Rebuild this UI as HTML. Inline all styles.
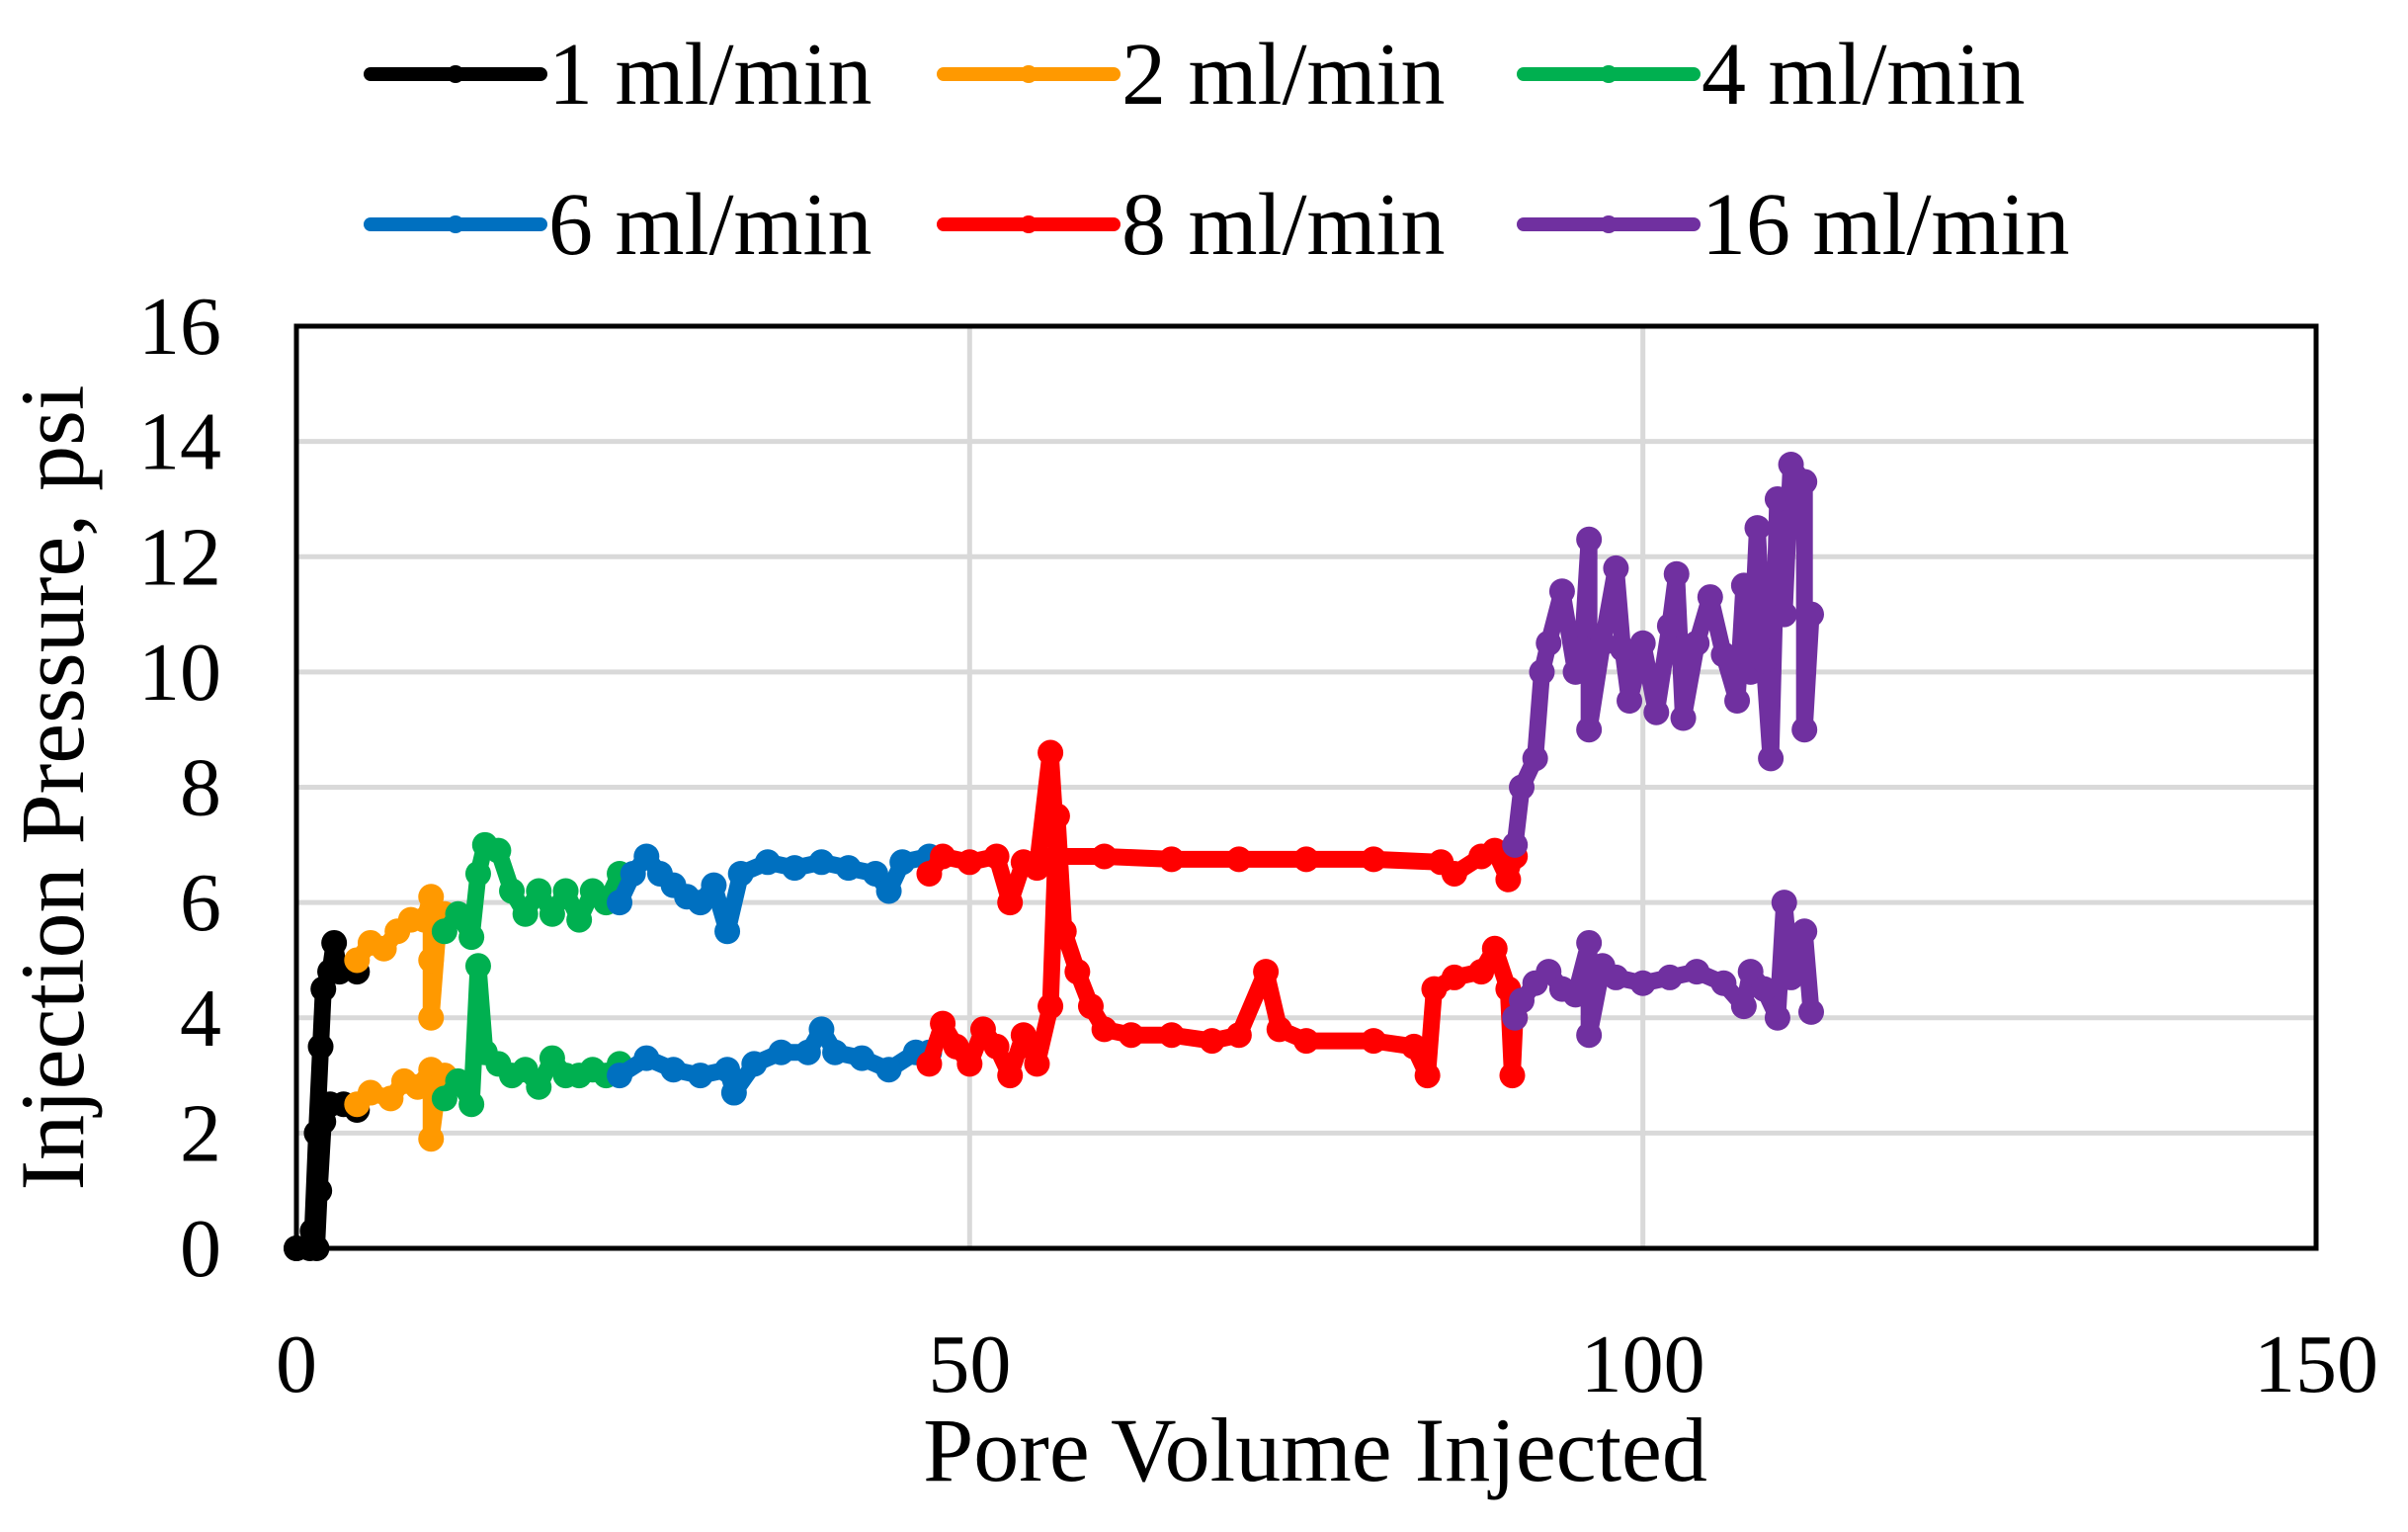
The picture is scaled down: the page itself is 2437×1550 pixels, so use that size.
<!DOCTYPE html>
<html><head><meta charset="utf-8"><style>
html,body{margin:0;padding:0;background:#fff;}
svg{display:block;font-family:"Liberation Serif",serif;}
</style></head><body>
<svg id="chart" width="2437" height="1550" viewBox="0 0 2437 1550" xmlns="http://www.w3.org/2000/svg">
<g id="grid"></g>
<g id="series"></g>
<rect x="300" y="330" width="2044" height="933" fill="none" stroke="#000" stroke-width="5"/>
<g id="yticks"></g>
<g id="xticks"></g>
<text x="1331" y="1498" font-size="92" text-anchor="middle">Pore Volume Injected</text>
<text transform="translate(84,797) rotate(-90)" font-size="92" text-anchor="middle">Injection Pressure, psi</text>
<g id="legend"></g>
</svg>
<script>
const xTicks=[0,50,100,150];
const yTicks=[0,2,4,6,8,10,12,14,16];
const seriesNames=["1 ml/min","2 ml/min","4 ml/min","6 ml/min","8 ml/min","16 ml/min"];
const seriesColors=["#000000","#FF9900","#00B050","#0070C0","#FF0000","#7030A0"];
const upper1=[[0,0],[1,0],[1.2,0.3],[1.5,2],[1.8,3.5],[2,4.5],[2.5,4.8],[2.8,5.3],[3.2,4.8],[4.5,4.8]];
const lower1=[[0,0],[1.5,0],[1.7,1],[2,2.2],[2.5,2.5],[3.5,2.5],[4.5,2.4]];
const upper2=[[4.5,5],[5.5,5.3],[6.5,5.2],[7.5,5.5],[8.5,5.7],[9.5,5.7],[10,6.1],[10,5],[10,4],[10.5,5.5],[11,5.8]];
const lower2=[[4.5,2.5],[5.5,2.7],[7,2.6],[8,2.9],[9,2.8],[10,3.1],[10,1.9],[10.5,2.8],[11,3]];
const upper4=[[11,5.5],[12,5.8],[13,5.4],[13.5,6.5],[14,7],[15,6.9],[16,6.2],[17,5.8],[18,6.2],[19,5.8],[20,6.2],[21,5.7],[22,6.2],[23,6],[24,6.5]];
const lower4=[[11,2.6],[12,2.9],[13,2.5],[13.5,4.9],[14,3.4],[15,3.2],[16,3],[17,3.1],[18,2.8],[19,3.3],[20,3],[21,3],[22,3.1],[23,3],[24,3.2]];
const upper6=[[24,6],[25,6.5],[26,6.8],[27,6.5],[28,6.3],[29,6.1],[30,6],[31,6.3],[32,5.5],[33,6.5],[35,6.7],[37,6.6],[39,6.7],[41,6.6],[43,6.5],[44,6.2],[45,6.7],[47,6.8]];
const lower6=[[24,3],[26,3.3],[28,3.1],[30,3],[32,3.1],[32.5,2.7],[34,3.2],[36,3.4],[38,3.4],[39,3.8],[40,3.4],[42,3.3],[44,3.1],[46,3.4],[47,3.4]];
const upper8=[[47,6.5],[48,6.8],[50,6.7],[52,6.8],[53,6],[54,6.7],[55,6.6],[56,8.6],[56.5,6.8],[60,6.8],[65,6.75],[70,6.75],[75,6.75],[80,6.75],[85,6.7],[86,6.5],[88,6.8],[89,6.9],[90,6.4],[90.5,6.8]];
const lower8=[[47,3.2],[48,3.9],[49,3.5],[50,3.2],[51,3.8],[52,3.5],[53,3],[54,3.7],[55,3.2],[56,4.2],[56.5,7.5],[57,5.5],[58,4.8],[59,4.2],[60,3.8],[62,3.7],[65,3.7],[68,3.6],[70,3.7],[72,4.8],[73,3.8],[75,3.6],[80,3.6],[83,3.5],[84,3],[84.5,4.5],[86,4.7],[88,4.8],[89,5.2],[90,4.5],[90.3,3],[90.5,4]];
const upper16=[[90.5,7],[91,8],[92,8.5],[92.5,10],[93,10.5],[94,11.4],[95,10],[95.5,10.4],[96,12.3],[96,9],[97,10.5],[98,11.8],[98.5,10.4],[99,9.5],[100,10.5],[101,9.3],[102,10.8],[102.5,11.7],[103,9.2],[104,10.5],[105,11.3],[106,10.3],[107,9.5],[107.5,11.5],[108,10],[108.5,12.5],[109,10.2],[109.5,8.5],[110,13],[110.5,11],[111,13.6],[112,13.3],[112,9],[112.5,11]];
const lower16=[[90.5,4],[91,4.3],[92,4.6],[93,4.8],[94,4.5],[95,4.4],[96,5.3],[96,3.7],[97,4.9],[98,4.7],[100,4.6],[102,4.7],[104,4.8],[106,4.6],[107.5,4.2],[108,4.8],[109,4.5],[110,4],[110.5,6],[111,4.7],[112,5.5],[112.5,4.1]];

const NS="http://www.w3.org/2000/svg";
const L=300,R=2344,T=330,B=1263;
const xS=v=>L+(v-0)/(150-0)*(R-L);
const yS=v=>B-(v-0)/(16-0)*(B-T);
function mk(tag,attrs,parent){const e=document.createElementNS(NS,tag);for(const k in attrs)e.setAttribute(k,attrs[k]);parent.appendChild(e);return e;}
const grid=document.getElementById('grid');
yTicks.forEach(v=>{if(v===0)return;const l=mk('line',{x1:L,x2:R,y1:yS(v),y2:yS(v),stroke:'#d9d9d9','stroke-width':5},grid);

});
xTicks.forEach(v=>{if(v===0||v===150)return;const l=mk('line',{x1:xS(v),x2:xS(v),y1:T,y2:B,stroke:'#d9d9d9','stroke-width':5},grid);

});
const yt=document.getElementById('yticks');
yTicks.forEach(v=>{const t=mk('text',{x:224,y:yS(v)+28,'font-size':84,'text-anchor':'end'},yt);t.textContent=v;

});
const xt=document.getElementById('xticks');
xTicks.forEach(v=>{const t=mk('text',{x:xS(v),y:1408,'font-size':84,'text-anchor':'middle'},xt);t.textContent=v;

});
const sg=document.getElementById('series');
const pairs=[[upper1,lower1],[upper2,lower2],[upper4,lower4],[upper6,lower6],[upper8,lower8],[upper16,lower16]];
pairs.forEach((pr,i)=>{
  const g=mk('g',{},sg);
  
  
  pr.forEach(arr=>{
    const p=mk('polyline',{points:arr.map(d=>xS(d[0])+','+yS(d[1])).join(' '),fill:'none',stroke:seriesColors[i],'stroke-width':17,'stroke-linejoin':'round','stroke-linecap':'round'},g);
    
    
    arr.forEach(d=>{const c=mk('circle',{cx:xS(d[0]),cy:yS(d[1]),r:13,fill:seriesColors[i]},g);
      
      });
  });
});
const lg=document.getElementById('legend');
const colX=[375,955,1542],rowY=[75,227];
seriesNames.forEach((n,i)=>{
  const x=colX[i%3],y=rowY[Math.floor(i/3)];
  const g=mk('g',{},lg);
  
  
  mk('line',{x1:x,x2:x+172,y1:y,y2:y,stroke:seriesColors[i],'stroke-width':14,'stroke-linecap':'round'},g);
  mk('circle',{cx:x+86,cy:y,r:9,fill:seriesColors[i]},g);
  const t=mk('text',{x:x+180,y:y+30,'font-size':90},g);t.textContent=n;
});
</script>
</body></html>
